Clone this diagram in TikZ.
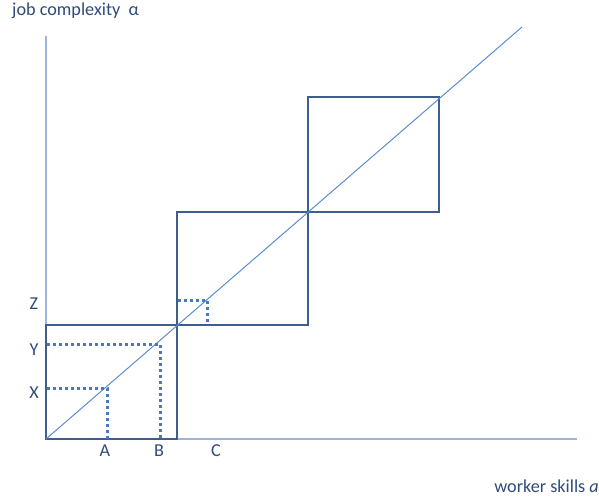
\documentclass[tikz,border=0pt]{standalone}
\usepackage{fontspec}
\setmainfont{Carlito}
\begin{document}
\begin{tikzpicture}[x=1pt,y=-1pt,
  boxline/.style={draw=boxblue,line width=2.2pt},
  axisline/.style={draw=axisblue,line width=1.4pt},
  diagline/.style={draw=diagblue,line width=1pt},
  dotline/.style={draw=dotblue,line width=3pt,dash pattern=on 3pt off 3pt},
  lbl/.style={text=txtblue,font=\fontsize{18.2}{20}\selectfont,inner sep=0pt}]
\definecolor{boxblue}{HTML}{3E5E8E}
\definecolor{axisblue}{HTML}{9DB5DA}
\definecolor{diagblue}{HTML}{5B8DD0}
\definecolor{dotblue}{HTML}{4A78C0}
\definecolor{txtblue}{HTML}{2F4B78}
\useasboundingbox (0,0) rectangle (599,498);
% coordinates
\coordinate (O) at (46,439);
\coordinate (ytop) at (46,36);
\coordinate (xend) at (577,439);
\coordinate (dend) at (522,27);
\coordinate (s1) at (177,325);
\coordinate (s2) at (308,212);
\coordinate (s3) at (439,97);
% axes
\draw[axisline] (ytop) -- (O) -- (xend);
% boxes
\draw[boxline] (O) rectangle (s1);
\draw[boxline] (s1) rectangle (s2);
\draw[boxline] (s2) rectangle (s3);
% diagonal
\draw[diagline] (O) -- (dend);
% dotted
\coordinate (xa) at (47,388);
\coordinate (pa) at (107,388);
\coordinate (ba) at (107,439);
\coordinate (yb) at (47,344);
\coordinate (pb) at (160,344);
\coordinate (bb) at (160,439);
\coordinate (zc) at (178,300);
\coordinate (pc) at (207,300);
\coordinate (bc) at (207,325);
\draw[dotline] (xa) -- (pa) -- (ba);
\draw[dotline] (yb) -- (pb) -- (bb);
\draw[dotline] (zc) -- (pc) -- (bc);
% labels
\node[lbl,anchor=west] (title) at (12,11) {job complexity\ \ α};
\node[lbl,anchor=east] (xlabel) at (599,486) {worker skills \textit{a}};
\node[lbl] (Z) at (34,304) {Z};
\node[lbl] (Y) at (34,350) {Y};
\node[lbl] (X) at (34,393) {X};
\node[lbl] (A) at (105,451) {A};
\node[lbl] (B) at (159,451) {B};
\node[lbl] (C) at (216,451) {C};
\end{tikzpicture}
\end{document}
